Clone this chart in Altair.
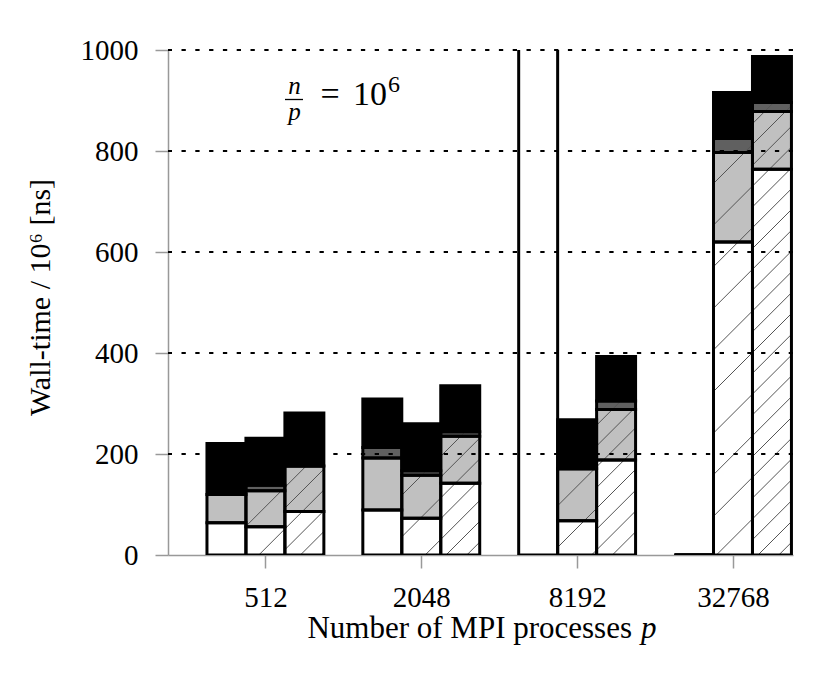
import math
import altair as alt
import pandas as pd

# ---------------- data ----------------
groups = ["512", "2048", "8192", "32768"]          # MPI processes p
variants = ["v1", "v2", "v3"]                        # three bars per group
segments = ["part1", "part2", "part3", "part4"]      # stacked, bottom -> top

# values per bar, group-major (512: v1 v2 v3, 2048: ..., 8192: ..., 32768: ...)
part1 = [64, 56, 86, 89, 73, 142, 1250, 68, 188, 0, 620, 764]
part2 = [56, 71, 90, 103, 85, 93, 0, 103, 100, 0, 177, 114]
part3 = [0, 11, 0, 21, 9, 9, 0, 0, 17, 0, 28, 18]
part4 = [101, 93, 105, 96, 93, 91, 0, 97, 88, 0, 91, 91]

y_ticks = [0, 200, 400, 600, 800, 1000]
grid_values = [200, 400, 600, 800, 1000]

# ---------------- layout / style constants ----------------
W, H = 625, 505
XMIN, XMAX = -1.0, 15.04
YMAX = 1000
FONT = "'Liberation Serif', 'Times New Roman', 'DejaVu Serif', serif"
seg_colors = ["#ffffff", "#c0c0c0", "#606060", "#000000"]
hatch_period = {1: 41.6, 2: 20.8}   # px, bars v2 and v3 are hatched
hatch_phase = 13.4

# ---------------- build tables ----------------
rows = []
for i in range(len(part1)):
    g, b = divmod(i, 3)
    x0 = 4 * g + b
    vals = [part1[i], part2[i], part3[i], part4[i]]
    base = 0
    for s, v in zip(segments, vals):
        rows.append(dict(group=groups[g], variant=variants[b], seg=s,
                         x0=x0, x1=x0 + 1, v0=base, v1=base + v))
        base += v
df = pd.DataFrame(rows)

kx = W / (XMAX - XMIN)
ky = H / YMAX
hrows = []
for i in range(len(part1)):
    g, b = divmod(i, 3)
    if b == 0:
        continue
    period = hatch_period[b]
    xa, xb = 4 * g + b, 4 * g + b + 1
    top = min(part1[i] + part2[i] + part3[i], YMAX)
    if top <= 0:
        continue
    Xa, Xb = (xa - XMIN) * kx, (xb - XMIN) * kx
    Yt, Yb = (YMAX - top) * ky, YMAX * ky
    cmin, cmax = Xa + Yt, Xb + Yb
    k = math.ceil((cmin - hatch_phase) / period)
    while True:
        c = hatch_phase + k * period
        if c > cmax:
            break
        X1 = max(Xa, c - Yb)
        X2 = min(Xb, c - Yt)
        if X2 > X1:
            hrows.append(dict(hx0=X1 / kx + XMIN, hy0=YMAX - (c - X1) / ky,
                              hx1=X2 / kx + XMIN, hy1=YMAX - (c - X2) / ky))
        k += 1
hdf = pd.DataFrame(hrows)

# ---------------- scales & axes ----------------
centers = [4 * g + 1.5 for g in range(len(groups))]
label_expr = " : ".join(f"datum.value == {c} ? '{lab}'" for c, lab in zip(centers, groups)) + " : ''"

xscale = alt.Scale(domain=[XMIN, XMAX], nice=False, zero=False)
yscale = alt.Scale(domain=[0, YMAX], nice=False, zero=True)

xaxis = alt.Axis(values=centers, labelExpr=label_expr, title="", grid=False,
                 domainColor="#999999", domainWidth=1.5, tickColor="#999999",
                 tickWidth=1.5, tickSize=13, labelPadding=15, labelFont=FONT,
                 labelFontSize=29, labelColor="black", labelFlush=False,
                 labelOverlap=False)
yaxis = alt.Axis(values=y_ticks, format="d", grid=False, title="Wall-time / 10⁶ [ns]",
                 domainColor="#999999", domainWidth=1.5, tickColor="#999999",
                 tickWidth=1.5, tickSize=13, labelPadding=17, labelFont=FONT,
                 labelFontSize=29, labelColor="black", labelFlush=False,
                 labelOverlap=False, titleFont=FONT, titleFontSize=30,
                 titleFontWeight="normal", titleColor="black", titleAngle=270,
                 titleX=-119, titleY=247, titleBaseline="alphabetic",
                 titleAlign="center")


def X(f):
    return alt.X(f, scale=xscale, axis=xaxis)


def Y(f):
    return alt.Y(f, scale=yscale, axis=yaxis)


fill = alt.Chart(df).mark_bar(clip=True, strokeWidth=0).encode(
    x=X("x0:Q"), x2="x1:Q", y=Y("v0:Q"), y2="v1:Q",
    color=alt.Color("seg:N", scale=alt.Scale(domain=segments, range=seg_colors), legend=None),
)

hatch = alt.Chart(hdf).mark_rule(stroke="#555555", strokeWidth=1).encode(
    x=X("hx0:Q"), y=Y("hy0:Q"), x2="hx1:Q", y2="hy1:Q"
)

outline = alt.Chart(df).mark_bar(clip=True, fillOpacity=0, stroke="black", strokeWidth=3).encode(
    x=X("x0:Q"), x2="x1:Q", y=Y("v0:Q"), y2="v1:Q"
)

grid = alt.Chart(pd.DataFrame({"gy": grid_values})).mark_rule(
    stroke="black", strokeWidth=2, strokeDash=[4.3, 9.5]
).encode(y=Y("gy:Q"))


def label(text, x, y, size, italic=False, align="left", baseline="alphabetic"):
    kw = dict(font=FONT, fontSize=size, align=align, baseline=baseline, color="black")
    if italic:
        kw["fontStyle"] = "italic"
    return alt.Chart(pd.DataFrame({"t": [text]})).mark_text(**kw).encode(
        x=alt.value(x), y=alt.value(y), text="t:N"
    )


frac_bar = alt.Chart(pd.DataFrame({"k": [0]})).mark_rule(stroke="black", strokeWidth=1.3).encode(
    x=alt.value(117), x2=alt.value(135), y=alt.value(49.5)
)

annot = [
    label("n", 126.5, 49.2, 25, italic=True, align="center", baseline="bottom"),
    frac_bar,
    label("p", 126.5, 49.8, 25, italic=True, align="center", baseline="top"),
    label("=", 162, 55, 34, align="center"),
    label("10", 185, 55, 34),
    label("6", 220, 42, 24),
    label("Number of MPI processes", 464, 588, 31, align="right"),
    label("p", 473, 588, 31, italic=True),
]

chart = alt.layer(fill, hatch, outline, grid, *annot).properties(
    width=W, height=H,
    autosize=alt.AutoSizeParams(type="none"),
    padding={"left": 160, "top": 42, "right": 30, "bottom": 95},
).configure_view(stroke="transparent")

chart.save("out.html", embed_options={"renderer": "svg", "actions": False})
